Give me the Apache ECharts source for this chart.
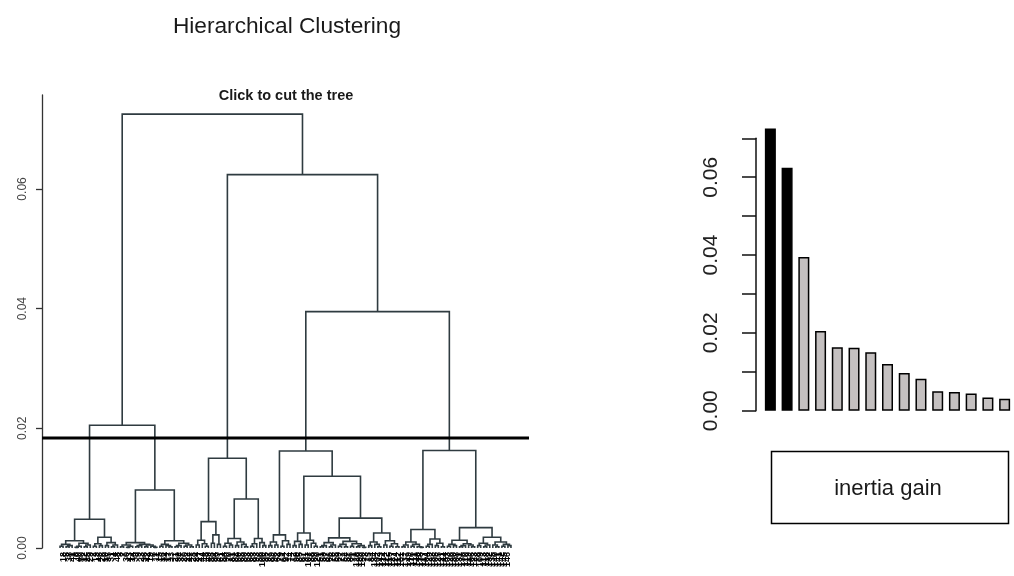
<!DOCTYPE html>
<html>
<head>
<meta charset="utf-8">
<script src="https://cdn.jsdelivr.net/npm/echarts@6/dist/echarts.min.js"></script>
<style>
  html, body { margin: 0; padding: 0; background: #ffffff; }
  #chart { width: 1014px; height: 576px; }
</style>
</head>
<body>
<div id="chart"></div>
<script>
// ---- Dendrogram: each merge is [height, left, right]; a bare number is an observation id ----
const cluster1 = [0.0048,
  [0.0012, [0.0006, [0.0003, 1, 18], [0.0004, [0.0002, 5, 38], 41]],
           [0.0008, [0.0003, [0.0001, 8, 40], 50], [0.0005, [0.0002, 12, 25], 29]]],
  [0.0018, [0.0007, [0.0003, 2, 13], [0.0004, 46, 26]],
           [0.0009, [0.0004, 10, 35], [0.0005, [0.0002, 31, 4], 48]]]
];
const cluster2 = [0.0097,
  [0.0009, [0.0005, [0.0002, 3, 7], [0.0003, [0.0001, 30, 43], 14]],
           [0.0006, [0.0004, [0.0002, 39, 9], 23], [0.0005, [0.0002, 36, 42], [0.0003, 19, [0.0001, 6, 11]]]]],
  [0.0012, [0.0006, [0.0003, 15, 16], [0.0004, 34, [0.0002, 17, 33]]],
           [0.0008, [0.0004, [0.0002, 21, 32], 37], [0.0005, [0.0003, 20, 22], [0.0002, 47, 28]]]]
];
const cluster3 = [0.0150,
  [0.0044,
    [0.0013, [0.0005, 24, 27], [0.0007, 44, [0.0003, 45, 49]]],
    [0.0022, [0.0008, 58, 94], [0.0006, 99, 61]]],
  [0.0082,
    [0.0016, [0.0008, [0.0003, 54, 90], [0.0005, 70, 81]], [0.0010, [0.0004, 82, 60], [0.0006, 65, [0.0002, 80, 63]]]],
    [0.0016, [0.0007, [0.0003, 68, 83], 93], [0.0009, 56, [0.0004, 100, 95]]]]
];
const cluster4 = [0.0162,
  [0.0022, [0.0010, [0.0004, 97, 89], [0.0005, 96, 62]], [0.0012, [0.0003, 79, 64], [0.0006, 92, 74]]],
  [0.0120,
    [0.0025, [0.0011, [0.0004, 72, 98], [0.0006, 85, 67]], [0.0013, [0.0005, 91, 107], [0.0008, 88, [0.0003, 69, 120]]]],
    [0.0050,
      [0.0017, [0.0009, [0.0004, [0.0002, 51, 53], 87], [0.0005, [0.0002, 66, 76], 55]],
               [0.0011, [0.0006, [0.0003, 59, 77], [0.0002, 52, 57]],
                        [0.0007, [0.0003, 86, 71], [0.0004, [0.0002, 128, 139], [0.0001, 150, 73]]]]],
      [0.0025, [0.0010, [0.0004, 75, 84], [0.0006, 134, [0.0002, 102, 143]]],
               [0.0012, [0.0005, 114, 122], [0.0007, [0.0003, 115, 127], [0.0002, 124, 112]]]]]]
];
const cluster5 = [0.0163,
  [0.0031,
    [0.0010, [0.0005, [0.0002, 101, 137], 149], [0.0006, [0.0003, 116, 111], [0.0002, 148, [0.0001, 138, 117]]]],
    [0.0015, [0.0006, [0.0003, 104, 129], 133], [0.0008, [0.0004, 105, 125], [0.0002, 121, 144]]]],
  [0.0034,
    [0.0013, [0.0006, [0.0003, 103, 126], [0.0004, 130, 108]], [0.0007, [0.0004, [0.0002, 131, 136], 110], [0.0005, 119, [0.0002, 106, 123]]]],
    [0.0018, [0.0008, [0.0004, 78, 109], [0.0005, [0.0002, 113, 118], 132]],
             [0.0010, [0.0005, 135, [0.0002, 140, 141]], [0.0006, [0.0003, 142, 145], [0.0004, 146, 147]]]]]
];
const dendrogram = [0.0725, [0.0205, cluster1, cluster2], [0.0624, cluster3, [0.0395, cluster4, cluster5]]];

const cutHeight = 0.0184;
const treeTicks = [0, 0.02, 0.04, 0.06];

// ---- Inertia gain bar chart ----
const gainRanks = ['1','2','3','4','5','6','7','8','9','10','11','12','13','14','15'];
const inertiaGain = [0.0725, 0.0624, 0.0395, 0.0205, 0.0163, 0.0162, 0.0150, 0.0120,
                     0.0097, 0.0082, 0.0050, 0.0048, 0.0044, 0.0034, 0.0031];
const gainTicks = [0, 0.01, 0.02, 0.03, 0.04, 0.05, 0.06, 0.07];
const gainLabels = [0, 0.02, 0.04, 0.06];
const darkBars = 2;

// Walk the tree: leaves get positions 1..n, merges sit midway between their children
const segments = [];
const leafLabels = [];
function place(node) {
  if (!Array.isArray(node)) {
    leafLabels.push(String(node));
    return { x: leafLabels.length, h: 0 };
  }
  const a = place(node[1]);
  const b = place(node[2]);
  segments.push([a.x, b.x, node[0], a.h, b.h]);
  return { x: (a.x + b.x) / 2, h: node[0] };
}
place(dendrogram);
const nLeaves = leafLabels.length;
const leafPositions = leafLabels.map((_, i) => i + 1);
const pad = 0.04 * (nLeaves - 1);
const xMin = 1 - pad, xMax = nLeaves + pad;

const FONT = "'Liberation Sans', Arial, Helvetica, sans-serif";
const chart = echarts.init(document.getElementById('chart'), null, { renderer: 'canvas' });

chart.setOption({
  animation: false,
  backgroundColor: '#ffffff',
  textStyle: { fontFamily: FONT },
  title: [
    { text: 'Hierarchical Clustering', left: 282, top: 10, textAlign: 'center',
      textStyle: { fontFamily: FONT, fontSize: 22.7, fontWeight: 'normal', color: '#1a1a1a' } },
    { text: 'Click to cut the tree', left: 281, top: 83, textAlign: 'center',
      textStyle: { fontFamily: FONT, fontSize: 14.5, fontWeight: 'bold', color: '#1a1a1a' } }
  ],
  grid: [
    { left: 42, top: 95, width: 487, height: 453 },
    { left: 762, top: 138.3, width: 251, height: 272.4 }
  ],
  xAxis: [
    { type: 'value', gridIndex: 0, min: xMin, max: xMax,
      axisLine: { show: false }, axisTick: { show: false }, splitLine: { show: false },
      axisLabel: { customValues: leafPositions, rotate: 90, fontSize: 9, fontWeight: 'bold', margin: 4,
                   color: '#000', fontFamily: FONT,
                   formatter: v => leafLabels[Math.round(v) - 1] || '' } },
    { type: 'category', gridIndex: 1, data: gainRanks, show: false }
  ],
  yAxis: [
    { type: 'value', gridIndex: 0, min: 0, max: 0.0757,
      axisLine: { show: true, onZero: false, lineStyle: { color: '#333', width: 1.3 } },
      axisTick: { show: true, customValues: treeTicks, length: 6, lineStyle: { color: '#333', width: 1.3 } },
      axisLabel: { customValues: treeTicks, rotate: 90, fontSize: 12, margin: 13, color: '#444',
                   fontFamily: FONT, formatter: v => v.toFixed(2) },
      splitLine: { show: false } },
    { type: 'value', gridIndex: 1, min: 0, max: 0.07, offset: 6,
      axisLine: { show: true, onZero: false, lineStyle: { color: '#111', width: 1.5 } },
      axisTick: { show: true, customValues: gainTicks, length: 14, lineStyle: { color: '#111', width: 1.5 } },
      axisLabel: { customValues: gainLabels, rotate: 90, fontSize: 21, margin: 34, color: '#222',
                   fontFamily: FONT, formatter: v => v.toFixed(2) },
      splitLine: { show: false } }
  ],
  series: [
    {
      type: 'custom',
      name: 'tree',
      xAxisIndex: 0, yAxisIndex: 0,
      data: segments,
      encode: { x: [0, 1], y: [2, 3, 4] },
      renderItem: function (params, api) {
        const xl = api.value(0), xr = api.value(1), h = api.value(2), hl = api.value(3), hr = api.value(4);
        const pts = [api.coord([xl, hl]), api.coord([xl, h]), api.coord([xr, h]), api.coord([xr, hr])];
        return { type: 'polyline', shape: { points: pts },
                 style: { stroke: '#2f3b40', lineWidth: 1.6, fill: null } };
      }
    },
    {
      // horizontal cut across the whole tree
      type: 'line',
      name: 'cut',
      xAxisIndex: 0, yAxisIndex: 0,
      data: [[xMin, cutHeight], [xMax, cutHeight]],
      symbol: 'none',
      silent: true,
      lineStyle: { color: '#000', width: 3 }
    },
    {
      type: 'bar',
      name: 'inertia gain',
      xAxisIndex: 1, yAxisIndex: 1,
      data: inertiaGain,
      barWidth: 11,
      clip: false,
      itemStyle: {
        color: p => (p.dataIndex < darkBars ? '#000000' : '#c4c0c0'),
        borderColor: '#000', borderWidth: 1.5
      }
    }
  ],
  graphic: [
    { type: 'rect', left: 769, top: 449, shape: { width: 237, height: 72 },
      style: { fill: 'none', stroke: '#000', lineWidth: 1.5 } },
    { type: 'text', x: 888, y: 489,
      style: { text: 'inertia gain', fill: '#1a1a1a', font: "22px 'Liberation Sans', Arial, sans-serif",
               align: 'center', verticalAlign: 'middle' } }
  ]
});
</script>
</body>
</html>
